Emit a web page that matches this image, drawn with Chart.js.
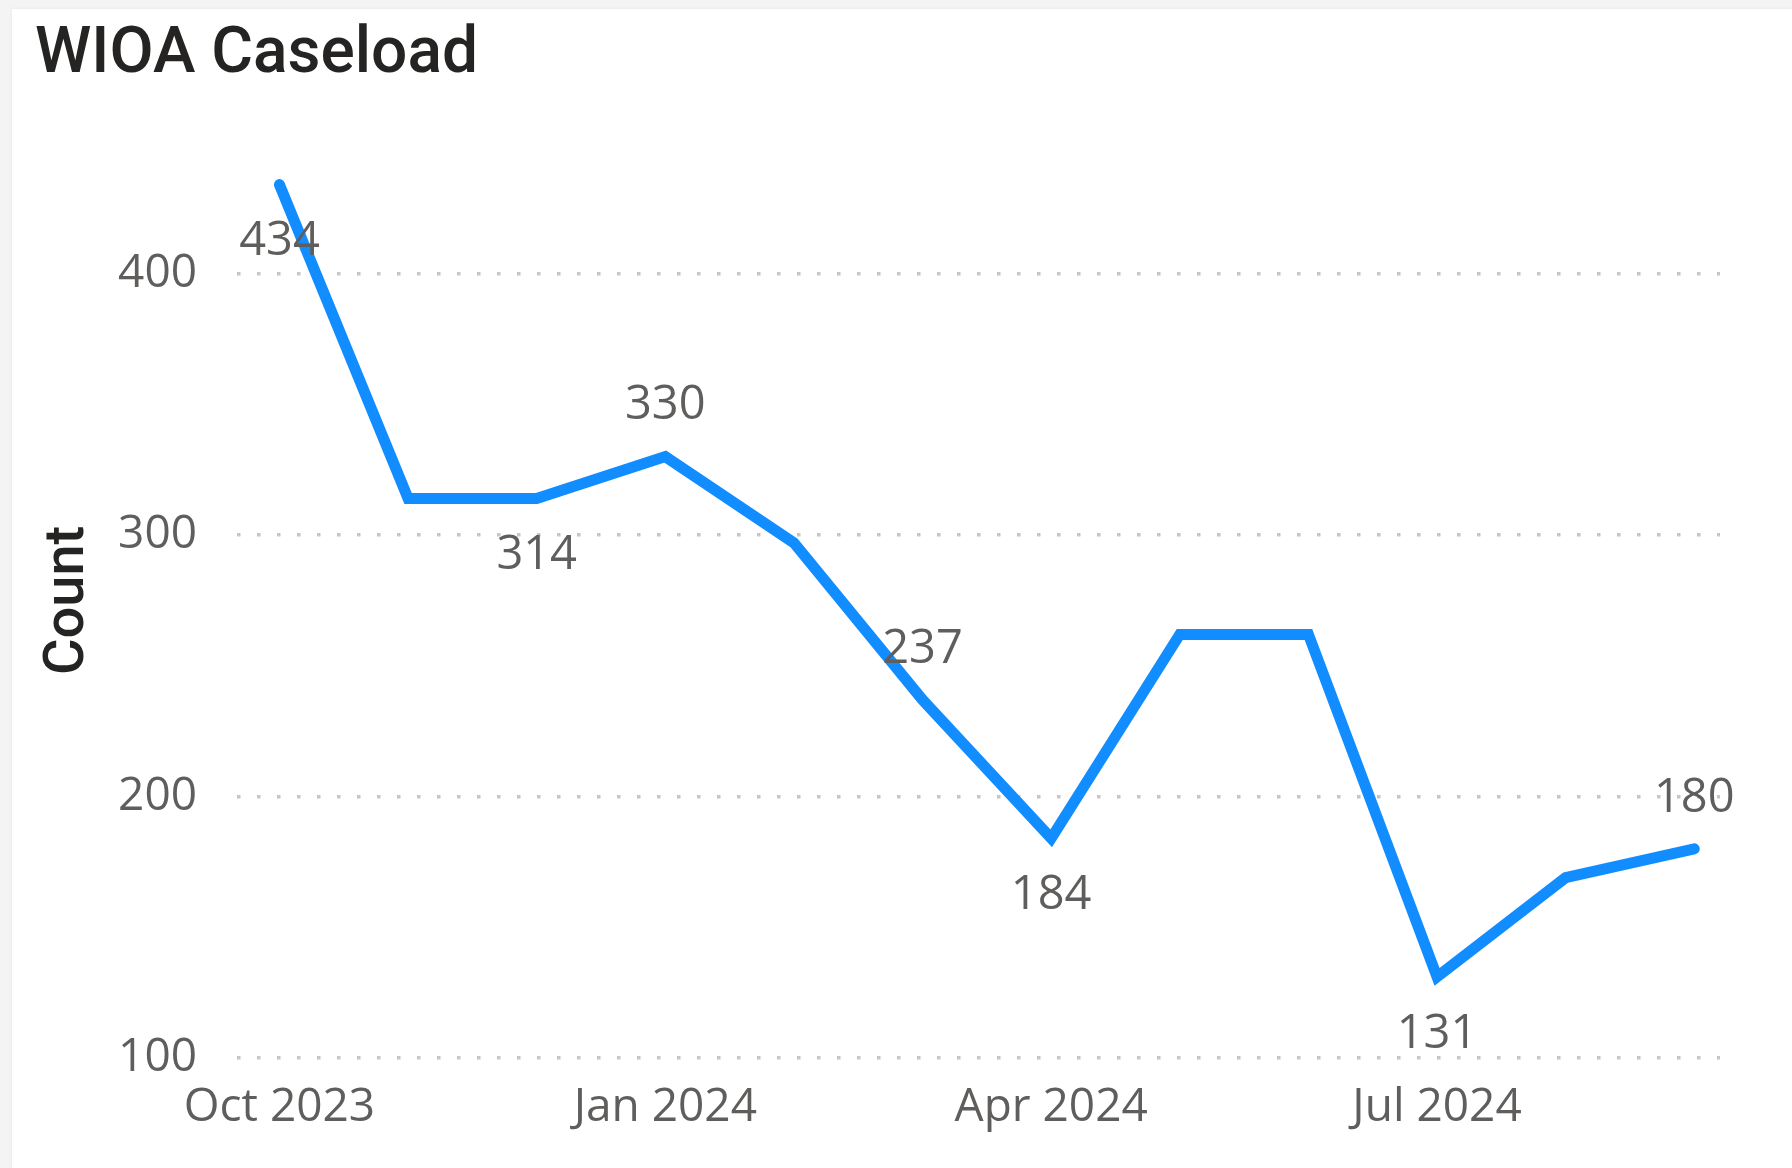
<!DOCTYPE html>
<html>
<head>
<meta charset="utf-8">
<script src="https://cdn.jsdelivr.net/npm/chart.js@4.4.1/dist/chart.umd.min.js"></script>
<style>
  html, body { margin: 0; padding: 0; width: 1792px; height: 1168px; overflow: hidden; background: #f4f4f4; }
  #card { position: absolute; left: 12px; top: 9px; right: -10px; bottom: -10px; background: #ffffff; box-shadow: 0 0 4px rgba(0,0,0,0.06); }
  #wrap { position: absolute; left: 0; top: 0; width: 1792px; height: 1168px; }
</style>
</head>
<body>
<div id="card"></div>
<div id="wrap"><canvas id="c" width="1792" height="1168"></canvas></div>
<script>
// ---- data ----
const months = ['Oct 2023','Nov 2023','Dec 2023','Jan 2024','Feb 2024','Mar 2024','Apr 2024','May 2024','Jun 2024','Jul 2024','Aug 2024','Sep 2024'];
const counts = [434, 314, 314, 330, 297, 237, 184, 262, 262, 131, 169, 180];
const xTickMonths = ['Oct 2023','Jan 2024','Apr 2024','Jul 2024'];
const yTicks = [100, 200, 300, 400];
const chartTitle = 'WIOA Caseload';
const yTitle = 'Count';

// which points carry a data label (Power BI auto-selection) and on which side
const labelSide = { 0: 1, 2: 1, 3: -1, 5: -1, 6: 1, 9: 1, 11: -1 };

const labelFont = '"Open Sans", "Noto Sans", sans-serif';
const headFont = 'Roboto, "DejaVu Sans", sans-serif';
const greyText = '#605E5C';

const dataLabels = {
  id: 'dataLabels',
  afterDatasetsDraw(chart) {
    const ctx = chart.ctx;
    const meta = chart.getDatasetMeta(0);
    const fs = 47;
    ctx.save();
    ctx.font = fs + 'px ' + labelFont;
    ctx.fillStyle = greyText;
    ctx.textAlign = 'center';
    ctx.textBaseline = 'alphabetic';
    Object.keys(labelSide).forEach(k => {
      const i = +k;
      const p = meta.data[i];
      const cy = p.y + labelSide[k] * 54;
      ctx.fillText(String(counts[i]), p.x, cy + 0.357 * fs);
    });
    ctx.restore();
  }
};

function build() {
  new Chart(document.getElementById('c'), {
    type: 'line',
    data: {
      datasets: [{
        data: counts.map((v, i) => ({ x: i, y: v })),
        borderColor: '#118DFF',
        borderWidth: 11,
        borderCapStyle: 'round',
        borderJoinStyle: 'miter',
        pointRadius: 0,
        pointHoverRadius: 0,
        tension: 0,
        fill: false
      }]
    },
    options: {
      responsive: false,
      animation: false,
      devicePixelRatio: 1,
      layout: { padding: { left: 35, top: 18, right: 72, bottom: 30 } },
      plugins: {
        legend: { display: false },
        tooltip: { enabled: false },
        title: {
          display: true,
          text: chartTitle,
          align: 'start',
          color: '#252423',
          font: { family: headFont, size: 64, weight: '500' },
          padding: { top: 0, bottom: 48 }
        }
      },
      scales: {
        x: {
          type: 'linear',
          min: -0.33,
          max: 11.2,
          afterBuildTicks: (axis) => { axis.ticks = xTickMonths.map(m => ({ value: months.indexOf(m) })); },
          afterFit: (axis) => { axis.height = 80; },
          grid: { display: false, drawTicks: false },
          border: { display: false },
          ticks: {
            autoSkip: false,
            maxRotation: 0,
            padding: 22,
            color: greyText,
            font: { family: labelFont, size: 46 },
            callback: (v) => months[v]
          }
        },
        y: {
          min: 100,
          max: 450,
          afterBuildTicks: (axis) => { axis.ticks = yTicks.map(v => ({ value: v })); },
          afterFit: (axis) => { axis.width = 202; },
          grid: { color: '#C8C6C4', lineWidth: 3.5, drawTicks: false },
          border: { display: false, dash: [3.5, 16.5] },
          ticks: {
            padding: 40,
            color: greyText,
            font: { family: labelFont, size: 46 }
          },
          title: {
            display: true,
            text: yTitle,
            color: '#252423',
            font: { family: headFont, size: 56, weight: '500' },
            padding: { top: 0, bottom: 0 }
          }
        }
      }
    },
    plugins: [dataLabels]
  });
}

const fontLoads = [
  '46px "Open Sans"', '500 64px Roboto', '500 56px Roboto'
].map(f => document.fonts.load(f).catch(() => null));
Promise.all(fontLoads).then(build, build);
</script>
</body>
</html>
